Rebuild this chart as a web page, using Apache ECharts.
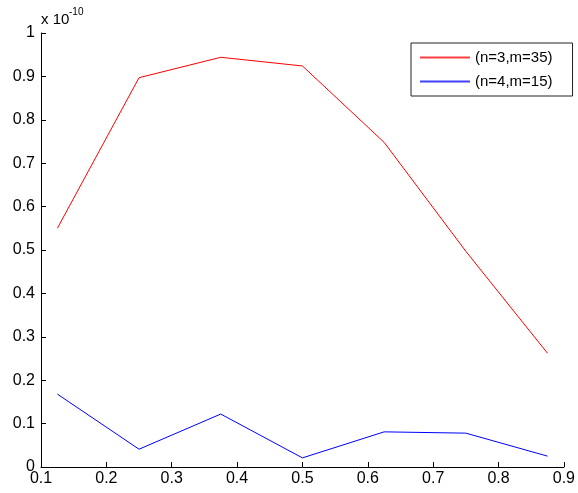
<!DOCTYPE html>
<html>
<head>
<meta charset="utf-8">
<script src="https://cdn.jsdelivr.net/npm/echarts@6/dist/echarts.min.js"></script>
<style>
  html, body { margin: 0; padding: 0; background: #fff; }
  #chart { width: 578px; height: 493px; }
</style>
</head>
<body>
<div id="chart"></div>
<script>
// values in units of 1e-10
var xValues = [0.125, 0.25, 0.375, 0.5, 0.625, 0.75, 0.875];
var seriesN3 = [0.55, 0.897, 0.944, 0.924, 0.748, 0.497, 0.262];
var seriesN4 = [0.168, 0.041, 0.122, 0.021, 0.081, 0.078, 0.025];
var seriesNames = ['(n=3,m=35)', '(n=4,m=15)'];
var lineColors = ['#ff0000', '#0000ff'];

function pairs(xs, ys) {
  return xs.map(function (x, i) { return [x, ys[i]]; });
}
function tickFmt(v) {
  return String(parseFloat(v.toFixed(1)));
}

var font = 'Liberation Sans, Arial, sans-serif';
var myChart = echarts.init(document.getElementById('chart'));
myChart.setOption({
  backgroundColor: '#fff',
  animation: false,
  color: lineColors,
  grid: { left: 41, right: 9, top: 33, bottom: 26 },
  legend: {
    left: 411,
    top: 43,
    orient: 'vertical',
    padding: [6, 20, 6, 9],
    itemWidth: 50,
    itemHeight: 2,
    itemGap: 7,
    borderColor: '#222',
    borderWidth: 1,
    backgroundColor: '#fff',
    icon: 'rect',
    itemStyle: { borderWidth: 0, opacity: 0.75 },
    lineStyle: { width: 0 },
    textStyle: { fontFamily: font, fontSize: 15, color: '#000', lineHeight: 17 },
    data: seriesNames
  },
  xAxis: {
    type: 'value',
    min: 0.1,
    max: 0.9,
    interval: 0.1,
    axisLine: { lineStyle: { color: '#000', width: 1 } },
    axisTick: { inside: true, length: 5, lineStyle: { color: '#000' } },
    axisLabel: { fontFamily: font, fontSize: 16, color: '#000', margin: 4, formatter: tickFmt },
    splitLine: { show: false }
  },
  yAxis: {
    type: 'value',
    min: 0,
    max: 1,
    interval: 0.1,
    axisLine: { show: true, lineStyle: { color: '#000', width: 1 } },
    axisTick: { show: true, inside: true, length: 5, lineStyle: { color: '#000' } },
    axisLabel: { fontFamily: font, fontSize: 16, color: '#000', margin: 6, formatter: tickFmt },
    splitLine: { show: false }
  },
  graphic: [
    { type: 'text', left: 41, top: 12, style: { text: 'x 10', font: '15px ' + font, fill: '#000' } },
    { type: 'text', left: 69, top: 7, style: { text: '-10', font: '10px ' + font, fill: '#000' } }
  ],
  series: [{
    name: seriesNames[0],
    type: 'line',
    symbol: 'none',
    itemStyle: { color: lineColors[0] },
    lineStyle: { color: lineColors[0], width: 1 },
    data: pairs(xValues, seriesN3)
  }, {
    name: seriesNames[1],
    type: 'line',
    symbol: 'none',
    itemStyle: { color: lineColors[1] },
    lineStyle: { color: lineColors[1], width: 1 },
    data: pairs(xValues, seriesN4)
  }]
});

window.addEventListener('resize', function () {
  myChart.resize();
});
</script>
</body>
</html>
